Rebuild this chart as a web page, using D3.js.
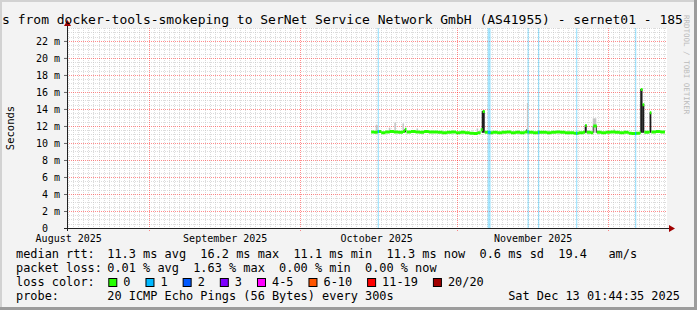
<!DOCTYPE html>
<html>
<head>
<meta charset="utf-8">
<script src="https://cdn.jsdelivr.net/npm/d3@7"></script>
<style>
  body { margin: 0; background: #f3f3f3; }
  svg { display: block; font-family: "DejaVu Sans Mono", monospace; }
  .pre { white-space: pre; }
</style>
</head>
<body>
<div id="chart"></div>
<script>
// ---- data (days are counted from 1 Sep 2025 00:00 UTC) ----
const titleText = "s from docker-tools-smokeping to SerNet Service Network GmbH (AS41955) - sernet01 - 185";
const viewStart = -16.24, viewEnd = 102.6;
const yMax = 23.52;
const yMajor = [0, 2, 4, 6, 8, 10, 12, 14, 16, 18, 20, 22];

// median rtt (ms), step samples
const medDay = [44.0, 44.6, 45.3, 46.0, 46.8, 47.7, 48.5, 49.4, 50.3, 50.7, 51.0, 51.9, 52.8, 53.6,
  54.5, 55.4, 56.3, 57.2, 58.1, 59.0, 59.9, 60.8, 61.7, 62.6, 63.5, 64.3, 65.1, 65.7, 66.1, 66.5,
  67.2, 68.1, 69.0, 69.9, 70.8, 71.7, 72.6, 73.5, 74.4, 75.2, 76.1, 77.0, 77.9, 78.8, 79.7, 80.6,
  81.5, 82.4, 83.3, 84.2, 85.1, 86.0, 86.4, 86.7, 87.5, 88.0, 88.7, 89.6, 90.5, 91.4, 92.3, 93.2,
  94.1, 95.0, 95.6, 96.4, 97.2, 97.4, 97.75, 98.1, 99.0, 99.2, 99.5, 100.4, 101.3, 102.2];
const medMs = [11.30, 11.25, 11.35, 11.20, 11.30, 11.35, 11.30, 11.25, 11.35, 11.60, 11.30, 11.35, 11.30, 11.25,
  11.35, 11.30, 11.30, 11.25, 11.20, 11.25, 11.30, 11.20, 11.25, 11.20, 11.15, 11.10, 11.20, 11.55, 13.70, 11.25,
  11.20, 11.25, 11.20, 11.25, 11.30, 11.20, 11.25, 11.20, 11.30, 11.25, 11.20, 11.25, 11.25, 11.20, 11.25, 11.30,
  11.25, 11.20, 11.20, 11.15, 11.20, 11.25, 12.05, 11.25, 11.20, 12.00, 11.25, 11.20, 11.25, 11.30, 11.25, 11.20,
  11.25, 11.15, 11.10, 11.15, 11.20, 16.30, 14.50, 11.25, 11.30, 13.55, 11.30, 11.35, 11.30, 11.30];

// light smoke (spread of the 20 pings)
const lightFrom = [44.9, 47.5, 48.6, 50.2, 53.0, 64.9, 74.85, 87.9, 92.0];
const lightTo   = [45.3, 47.8, 48.9, 50.5, 53.3, 65.2, 75.05, 88.6, 92.3];
const lightLo   = [11.2, 11.2, 11.2, 11.2, 11.2, 11.2, 11.2, 11.2, 11.2];
const lightHi   = [12.1, 11.8, 12.4, 12.3, 11.7, 11.7, 14.7, 12.9, 11.6];

// dense smoke
const darkFrom = [50.6, 65.9, 74.7, 86.3, 87.9, 88.55, 97.3, 97.7, 99.15];
const darkTo   = [50.9, 66.5, 74.85, 86.7, 88.05, 88.7, 97.75, 98.1, 99.5];
const darkLo   = [11.25, 11.2, 11.2, 11.2, 11.2, 11.2, 11.2, 11.2, 11.2];
const darkHi   = [11.65, 13.75, 11.6, 12.1, 12.0, 12.0, 16.35, 14.55, 13.6];

// samples with 1/20 packets lost
const lossDay   = [45.3, 67.08, 74.97, 77.04, 84.57, 96.26];
const lossHours = [5, 14, 5, 5, 5, 5];

const lossLabels = ["0", "1", "2", "3", "4-5", "6-10", "11-19", "20/20"];
const lossColors = ["#26ff00", "#00b8ff", "#0059ff", "#7e00ff", "#ff00ff", "#ff5500", "#ff0000", "#a10000"];

const rttStats  = ["11.3 ms avg", "16.2 ms max", "11.1 ms min", "11.3 ms now", "0.6 ms sd", "19.4   am/s"];
const lossStats = ["0.01 % avg", "1.63 % max", "0.00 % min", "0.00 % now"];
const probeText = "20 ICMP Echo Pings (56 Bytes) every 300s";
const stampText = "Sat Dec 13 01:44:35 2025";

// ---- layout ----
const W = 697, H = 310;
const pL = 67, pR = 667, pT = 28, pB = 228;
const t0 = Date.UTC(2025, 8, 1);
const at = d => new Date(t0 + d * 864e5);

const x = d3.scaleUtc().domain([at(viewStart), at(viewEnd)]).range([pL, pR]);
const y = d3.scaleLinear().domain([0, yMax]).range([pB, pT]);

const svg = d3.select("#chart").append("svg")
    .attr("width", W).attr("height", H);

svg.append("rect").attr("width", W).attr("height", H).attr("fill", "#f3f3f3");
svg.append("rect").attr("x", pL).attr("y", pT)
    .attr("width", pR - pL).attr("height", pB - pT).attr("fill", "#fff");

const px = v => Math.round(v) + 0.5;
const grid = svg.append("g").attr("shape-rendering", "crispEdges");

// minor grid
const monthStarts = d3.utcMonth.range(x.domain()[0], x.domain()[1]);
const days = d3.utcDay.range(x.domain()[0], x.domain()[1])
    .filter(d => d.getUTCDate() !== 1);
grid.selectAll(".vminor").data(days).enter().append("line")
    .attr("x1", d => px(x(d))).attr("x2", d => px(x(d)))
    .attr("y1", pT).attr("y2", pB)
    .attr("stroke", "rgba(186,186,186,0.5)").attr("stroke-dasharray", "1,1");
const hMinor = d3.range(0.5, yMax, 0.5).filter(v => v % 2 !== 0);
grid.selectAll(".hminor").data(hMinor).enter().append("line")
    .attr("x1", pL).attr("x2", pR)
    .attr("y1", d => px(y(d))).attr("y2", d => px(y(d)))
    .attr("stroke", "rgba(186,186,186,0.5)").attr("stroke-dasharray", "1,1");

// major grid
grid.selectAll(".vmajor").data(monthStarts).enter().append("line")
    .attr("x1", d => px(x(d))).attr("x2", d => px(x(d)))
    .attr("y1", pT).attr("y2", pB + 3)
    .attr("stroke", "rgba(255,0,0,0.45)").attr("stroke-dasharray", "1,1");
grid.selectAll(".hmajor").data(yMajor.filter(v => v > 0)).enter().append("line")
    .attr("x1", pL).attr("x2", pR)
    .attr("y1", d => px(y(d))).attr("y2", d => px(y(d)))
    .attr("stroke", "rgba(255,0,0,0.45)").attr("stroke-dasharray", "1,1");

// loss background bars
const hw = h => x(at(h / 24)) - x(at(0));
svg.append("g").selectAll("rect").data(lossDay).enter().append("rect")
    .attr("x", d => x(at(d))).attr("y", pT)
    .attr("width", (d, i) => Math.max(1.3, hw(lossHours[i])))
    .attr("height", pB - pT)
    .attr("fill", "#00b8ff").attr("opacity", 0.35);

// smoke
svg.append("g").selectAll("rect").data(lightFrom).enter().append("rect")
    .attr("x", (d, i) => x(at(d))).attr("width", (d, i) => x(at(lightTo[i])) - x(at(d)))
    .attr("y", (d, i) => y(lightHi[i])).attr("height", (d, i) => y(lightLo[i]) - y(lightHi[i]))
    .attr("fill", "#c4c4c4");
svg.append("g").selectAll("rect").data(darkFrom).enter().append("rect")
    .attr("x", (d, i) => x(at(d))).attr("width", (d, i) => x(at(darkTo[i])) - x(at(d)))
    .attr("y", (d, i) => y(darkHi[i])).attr("height", (d, i) => y(darkLo[i]) - y(darkHi[i]))
    .attr("fill", "#1c1c1c");

// median band
const band = d3.area().curve(d3.curveStepAfter)
    .x(i => x(at(medDay[i])))
    .y0(i => y(medMs[i]) + 1.5)
    .y1(i => y(medMs[i]) - 1.5);
svg.append("path").datum(d3.range(medDay.length))
    .attr("d", band).attr("fill", lossColors[0]);

// median coloured by loss
svg.append("g").selectAll("rect").data(lossDay).enter().append("rect")
    .attr("x", d => x(at(d)))
    .attr("width", (d, i) => Math.max(1.3, hw(lossHours[i])))
    .attr("y", d => y(medMs[d3.bisectRight(medDay, d) - 1]) - 1.5)
    .attr("height", 3)
    .attr("fill", lossColors[1]);

// y axis
const yAxis = svg.append("g").attr("transform", `translate(${pL},0)`)
    .call(d3.axisLeft(y).tickValues(yMajor)
        .tickFormat(v => v === 0 ? "0  " : v + " m")
        .tickSize(3).tickPadding(4));
yAxis.select(".domain").remove();
yAxis.selectAll("line").attr("stroke", "#666");
yAxis.selectAll("text").attr("class", "pre")
    .attr("font-family", "DejaVu Sans Mono").attr("font-size", 10).attr("fill", "#000");

// x axis labels at mid-month
const labelDates = d3.utcMonth.range(d3.utcMonth.floor(x.domain()[0]), x.domain()[1])
    .map(d => d3.utcDay.offset(d, 15))
    .filter(d => d >= x.domain()[0] && d <= x.domain()[1]);
const xAxis = svg.append("g").attr("transform", `translate(0,${pB})`)
    .call(d3.axisBottom(x).tickValues(labelDates)
        .tickFormat(d3.utcFormat("%B %Y")).tickSize(0).tickPadding(6.5));
xAxis.select(".domain").remove();
xAxis.selectAll("text")
    .attr("font-family", "DejaVu Sans Mono").attr("font-size", 10).attr("fill", "#000");

// axis lines and arrows
svg.append("line").attr("x1", pL - 3).attr("x2", 670).attr("y1", pB + 0.5).attr("y2", pB + 0.5)
    .attr("stroke", "#222");
svg.append("line").attr("x1", pL + 0.5).attr("x2", pL + 0.5).attr("y1", pB + 3).attr("y2", 24)
    .attr("stroke", "#222");
svg.append("path").attr("d", `M${pL - 3},26L${pL + 4},26L${pL + 0.5},20Z`).attr("fill", "#a00000");
svg.append("path").attr("d", `M669,${pB - 3}L669,${pB + 4}L675,${pB + 0.5}Z`).attr("fill", "#a00000");

// title and side texts
svg.append("text").attr("x", 2).attr("y", 23.5).attr("font-size", 13).attr("fill", "#000")
    .text(titleText);
svg.append("text").attr("transform", `translate(14,${(pT + pB) / 2}) rotate(-90)`)
    .attr("text-anchor", "middle").attr("font-size", 10.5).attr("fill", "#000").text("Seconds");
svg.append("text").attr("transform", "translate(684,15) rotate(90)")
    .attr("font-size", 7.5).attr("fill", "#bbb").text("RRDTOOL / TOBI OETIKER");

// legend
const leg = svg.append("g").attr("font-size", 11.9).attr("fill", "#000");
const rowY = [258, 272, 286, 300];
const valX = 107.3;
leg.append("text").attr("x", 16).attr("y", rowY[0]).text("median rtt:");
leg.append("text").attr("class", "pre").attr("x", valX).attr("y", rowY[0]).text(rttStats.join("  "));
leg.append("text").attr("x", 16).attr("y", rowY[1]).text("packet loss:");
leg.append("text").attr("class", "pre").attr("x", valX).attr("y", rowY[1]).text(lossStats.join("  "));
leg.append("text").attr("x", 16).attr("y", rowY[2]).text("loss color:");
let cx = valX + 1;
lossLabels.forEach((lab, i) => {
  leg.append("rect").attr("x", cx + 0.5).attr("y", rowY[2] - 7.5).attr("width", 8).attr("height", 8)
      .attr("fill", lossColors[i]).attr("stroke", "#000");
  const t = leg.append("text").attr("x", cx + 15).attr("y", rowY[2]).text(lab);
  cx = cx + 15 + t.node().getComputedTextLength() + 15;
});
leg.append("text").attr("x", 16).attr("y", rowY[3]).text("probe:");
leg.append("text").attr("x", valX).attr("y", rowY[3]).text(probeText);
leg.append("text").attr("x", 680).attr("y", rowY[3]).attr("text-anchor", "end").text(stampText);

// frame
svg.append("path").attr("d", `M0,0H${W}V2H2V${H}H0Z`).attr("fill", "#d2d2d2");
svg.append("path").attr("d", `M${W},0V${H}H0V${H - 3}H${W - 3}V0Z`).attr("fill", "#9c9c9c");
</script>
</body>
</html>
